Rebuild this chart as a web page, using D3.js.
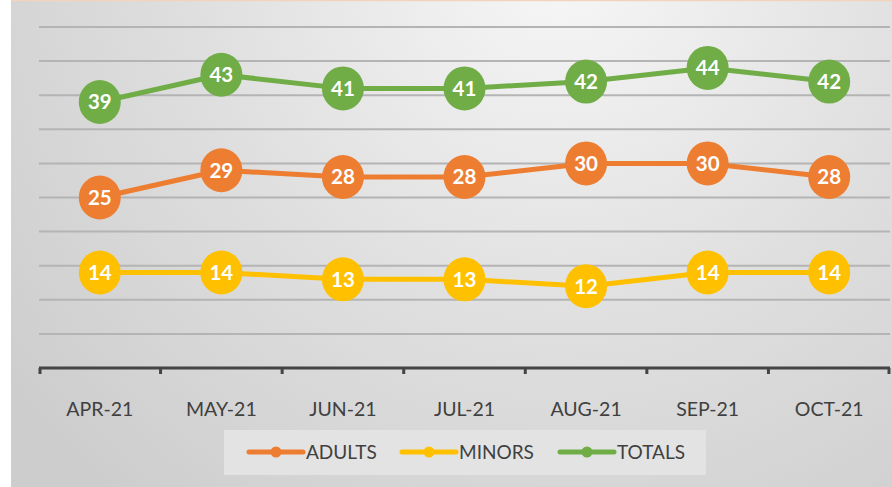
<!DOCTYPE html>
<html><head><meta charset="utf-8">
<script src="https://cdn.jsdelivr.net/npm/d3@7"></script>
<style>html,body{margin:0;padding:0;background:#fff;}svg{display:block;}</style>
</head><body>
<svg id="c" width="892" height="487"></svg>
<script>
const categories = ["APR-21","MAY-21","JUN-21","JUL-21","AUG-21","SEP-21","OCT-21"];
const adults = [25,29,28,28,30,30,28];
const minors = [14,14,13,13,12,14,14];
const totals = [39,43,41,41,42,44,42];
const seriesNames = ["ADULTS","MINORS","TOTALS"];
const seriesColors = ["#ED7D31","#FFC000","#70AD47"];
const yTicks = [0,5,10,15,20,25,30,35,40,45,50];

const svg = d3.select("#c");
const W = 892, H = 487;
const FONT = "Lato, 'Open Sans', sans-serif";
const defs = svg.append("defs");
const rg = defs.append("radialGradient").attr("id","bg")
  .attr("gradientUnits","userSpaceOnUse")
  .attr("cx",560).attr("cy",-40).attr("r",700);
rg.append("stop").attr("offset","0%").attr("stop-color","#f7f7f7");
rg.append("stop").attr("offset","55%").attr("stop-color","#dedede");
rg.append("stop").attr("offset","100%").attr("stop-color","#cdcdcd");
svg.append("rect").attr("x",11).attr("y",0).attr("width",W-11).attr("height",H).attr("fill","url(#bg)");
svg.append("line").attr("x1",11).attr("x2",W).attr("y1",0.5).attr("y2",0.5).attr("stroke","#f3d3bd").attr("stroke-width",1.5);

const x = d3.scaleBand().domain(categories).range([39,890]);
const y = d3.scaleLinear().domain([0,50]).range([368,27]);

// gridlines
svg.append("g").selectAll("line").data(yTicks.filter(d=>d>0)).join("line")
  .attr("x1",39).attr("x2",890)
  .attr("y1",d=>y(d)).attr("y2",d=>y(d))
  .attr("stroke","#b4b4b4").attr("stroke-width",2);

// axis
const ax = svg.append("g").attr("transform","translate(0,368)")
  .call(d3.axisBottom(x).tickSize(0).tickPadding(34));
ax.select(".domain").remove();
ax.selectAll("text").attr("fill","#404040").style("font-family",FONT).style("font-size","19.5px");
svg.append("line").attr("x1",39).attr("x2",890).attr("y1",368).attr("y2",368).attr("stroke","#444").attr("stroke-width",3);
const bounds = categories.map(c=>x(c)).concat([x(categories[categories.length-1])+x.bandwidth()]);
svg.append("g").selectAll("line").data(bounds).join("line")
  .attr("x1",d=>Math.min(Math.max(d,40),889)).attr("x2",d=>Math.min(Math.max(d,40),889))
  .attr("y1",368).attr("y2",374).attr("stroke","#444").attr("stroke-width",3);

const series = [adults, minors, totals];
const line = d3.line().x((d,i)=>x(categories[i])+x.bandwidth()/2).y(d=>y(d));
series.forEach((vals,si)=>{
  const g = svg.append("g");
  g.append("path").datum(vals).attr("d",line).attr("fill","none")
    .attr("stroke",seriesColors[si]).attr("stroke-width",5).attr("stroke-linejoin","round");
  const pts = g.selectAll("g.pt").data(vals).join("g").attr("class","pt")
    .attr("transform",(d,i)=>`translate(${x(categories[i])+x.bandwidth()/2},${y(d)})`);
  pts.append("ellipse").attr("rx",21).attr("ry",22).attr("fill",seriesColors[si]);
  pts.append("text").text(d=>d).attr("text-anchor","middle").attr("dy","0.36em")
    .attr("fill","#fff").style("font-family",FONT)
    .style("font-weight","bold").style("font-size","20.5px");
});

// legend
const lg = svg.append("g");
lg.append("rect").attr("x",224).attr("y",430).attr("width",482).attr("height",45).attr("fill","#e3e3e3");
const legX = [249,402,560];
seriesNames.forEach((n,i)=>{
  const gx = legX[i];
  lg.append("line").attr("x1",gx).attr("x2",gx+54).attr("y1",452).attr("y2",452)
    .attr("stroke",seriesColors[i]).attr("stroke-width",5).attr("stroke-linecap","round");
  lg.append("circle").attr("cx",gx+27).attr("cy",452).attr("r",5.5).attr("fill",seriesColors[i]);
  lg.append("text").attr("x",gx+57).attr("y",452).attr("dy","0.36em").text(n)
    .attr("fill","#404040").style("font-family",FONT).style("font-size","19px");
});
</script>
</body></html>
